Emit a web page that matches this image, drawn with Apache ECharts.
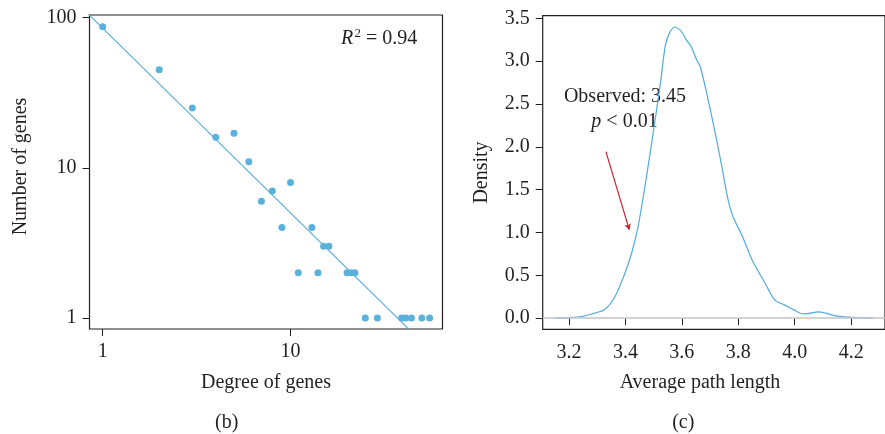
<!DOCTYPE html>
<html>
<head>
<meta charset="utf-8">
<script src="https://cdn.jsdelivr.net/npm/echarts@6/dist/echarts.min.js"></script>
<style>
  html, body { margin: 0; padding: 0; background: #fff; }
  #chart { width: 885px; height: 434px; }
</style>
</head>
<body>
<div id="chart"></div>
<script>
// panel (b): degree distribution, log-log
const degree = [1, 2, 3, 4, 5, 6, 7, 8, 9, 10, 11, 13, 14, 15, 16, 20, 21, 22, 25, 29, 39, 41, 44, 50, 55];
const geneCount = [87, 45, 25, 16, 17, 11, 6, 7, 4, 8, 2, 4, 2, 3, 3, 2, 2, 2, 1, 1, 1, 1, 1, 1, 1];
const fitIntercept = 1.93; // log10 scale
const fitSlope = -1.23;
const degreeTicks = [1, 10];
const countTicks = [1, 10, 100];

// panel (c): density of average path length
const pathLength = [3.15, 3.2, 3.245, 3.29, 3.325, 3.36, 3.394, 3.422, 3.445, 3.473, 3.502, 3.525, 3.542, 3.559,
  3.576, 3.599, 3.616, 3.633, 3.65, 3.667, 3.701, 3.735, 3.764, 3.781, 3.815, 3.849, 3.895, 3.929, 3.963,
  3.997, 4.031, 4.054, 4.083, 4.111, 4.145, 4.191, 4.24, 4.28];
const density = [0.0, 0.006, 0.019, 0.058, 0.097, 0.233, 0.486, 0.758, 1.069, 1.614, 2.24, 2.76, 3.19, 3.344,
  3.395, 3.344, 3.247, 3.169, 3.033, 2.917, 2.43, 1.886, 1.38, 1.186, 0.952, 0.68, 0.408, 0.214, 0.155,
  0.097, 0.05, 0.058, 0.074, 0.058, 0.027, 0.012, 0.004, 0.0];
const pathTicks = [3.2, 3.4, 3.6, 3.8, 4.0, 4.2];
const densityTicks = [0, 0.5, 1.0, 1.5, 2.0, 2.5, 3.0, 3.5];
const arrowFrom = [3.331, 1.944];
const arrowTo = [3.414, 1.03];

const FONT = '"Liberation Serif", "Times New Roman", serif';
const INK = "#231f20";
const BLUE = "#52abd9";

const chart = echarts.init(document.getElementById("chart"));

const fitX = [0.5, 100];
const fitLine = fitX.map((x) => [x, Math.pow(10, fitIntercept + fitSlope * Math.log10(x))]);

const tickStyle = { show: true, length: 7, inside: false, lineStyle: { color: INK, width: 1 } };
const labelStyle = { color: INK, fontSize: 20, fontFamily: FONT };
const nameStyle = { color: INK, fontSize: 20, fontFamily: FONT };

const option = {
  animation: false,
  grid: [
    { left: 89.5, top: 15, width: 353, height: 314, show: true, borderColor: INK, borderWidth: 1.2 },
    { left: 542.7, top: 15.7, width: 355, height: 313.6, show: true, borderColor: INK, borderWidth: 1.2 },
  ],
  xAxis: [
    {
      gridIndex: 0,
      type: "log",
      logBase: 10,
      min: 0.851,
      max: 64.4,
      axisLine: { show: false },
      axisTick: { ...tickStyle, customValues: degreeTicks },
      axisLabel: { ...labelStyle, margin: 13, customValues: degreeTicks, formatter: (v) => String(Math.round(v)) },
      splitLine: { show: false },
      name: "Degree of genes",
      nameLocation: "middle",
      nameGap: 44,
      nameTextStyle: nameStyle,
    },
    {
      gridIndex: 1,
      type: "value",
      min: 3.107,
      max: 4.32,
      axisLine: { show: false },
      axisTick: { ...tickStyle, customValues: pathTicks },
      axisLabel: { ...labelStyle, margin: 13, customValues: pathTicks, formatter: (v) => v.toFixed(1) },
      splitLine: { show: false },
    },
  ],
  yAxis: [
    {
      gridIndex: 0,
      type: "log",
      logBase: 10,
      min: 0.845,
      max: 104.2,
      axisLine: { show: false },
      axisTick: { ...tickStyle, customValues: countTicks },
      axisLabel: { ...labelStyle, margin: 13, customValues: countTicks, formatter: (v) => String(Math.round(v)) },
      splitLine: { show: false },
      name: "Number of genes",
      nameLocation: "middle",
      nameGap: 59,
      nameTextStyle: { ...nameStyle, padding: [0, 0, 0, 11] },
    },
    {
      gridIndex: 1,
      type: "value",
      min: -0.13,
      max: 3.53,
      axisLine: { show: false },
      axisTick: { ...tickStyle, customValues: densityTicks },
      axisLabel: { ...labelStyle, margin: 13, customValues: densityTicks, formatter: (v) => v.toFixed(1) },
      splitLine: { show: false },
      name: "Density",
      nameLocation: "middle",
      nameGap: 51,
      nameTextStyle: nameStyle,
    },
  ],
  series: [
    {
      type: "line",
      xAxisIndex: 0,
      yAxisIndex: 0,
      data: fitLine,
      showSymbol: false,
      clip: true,
      lineStyle: { color: BLUE, width: 1.1, opacity: 1 },
      z: 2,
    },
    {
      type: "scatter",
      xAxisIndex: 0,
      yAxisIndex: 0,
      data: degree.map((d, i) => [d, geneCount[i]]),
      symbolSize: 7,
      itemStyle: { color: "#5ab1dc", opacity: 1 },
      z: 3,
    },
    {
      type: "line",
      xAxisIndex: 1,
      yAxisIndex: 1,
      data: pathLength.map((x, i) => [x, density[i]]),
      showSymbol: false,
      smooth: 0.3,
      lineStyle: { color: BLUE, width: 1.2 },
      markLine: {
        silent: true,
        symbol: ["none", "none"],
        label: { show: false },
        data: [
          { yAxis: 0, lineStyle: { color: "#c4c4c4", width: 1.5, type: "solid" } },
          [
            { coord: arrowFrom, symbol: "none", lineStyle: { color: "#c8202f", width: 1.2, type: "solid" } },
            { coord: arrowTo, symbol: "arrow", symbolSize: [5, 6] },
          ],
        ],
      },
    },
  ],
  graphic: [
    { type: "text", x: 341, y: 39, style: { text: "R", fontSize: 20, fontStyle: "italic", fontFamily: FONT, fill: INK, verticalAlign: "middle" } },
    { type: "text", x: 354.5, y: 33.4, style: { text: "2", fontSize: 13, fontFamily: FONT, fill: INK, verticalAlign: "middle" } },
    { type: "text", x: 366, y: 39, style: { text: "= 0.94", fontSize: 20, fontFamily: FONT, fill: INK, verticalAlign: "middle" } },
    { type: "text", x: 625, y: 96.5, style: { text: "Observed: 3.45", fontSize: 20, fontFamily: FONT, fill: INK, align: "center", verticalAlign: "middle" } },
    {
      type: "text", x: 624.5, y: 121.3,
      style: {
        text: "{i|p} < 0.01", fontSize: 20, fontFamily: FONT, fill: INK, align: "center", verticalAlign: "middle",
        rich: { i: { fontSize: 20, fontFamily: FONT, fontStyle: "italic", color: INK } },
      },
    },
    { type: "text", x: 700, y: 383, style: { text: "Average path length", fontSize: 20, fontFamily: FONT, fill: INK, align: "center", verticalAlign: "middle" } },
    { type: "text", x: 226.7, y: 422.7, style: { text: "(b)", fontSize: 20, fontFamily: FONT, fill: INK, align: "center", verticalAlign: "middle" } },
    { type: "text", x: 683.3, y: 422.7, style: { text: "(c)", fontSize: 20, fontFamily: FONT, fill: INK, align: "center", verticalAlign: "middle" } },
  ],
};

chart.setOption(option);
</script>
</body>
</html>
